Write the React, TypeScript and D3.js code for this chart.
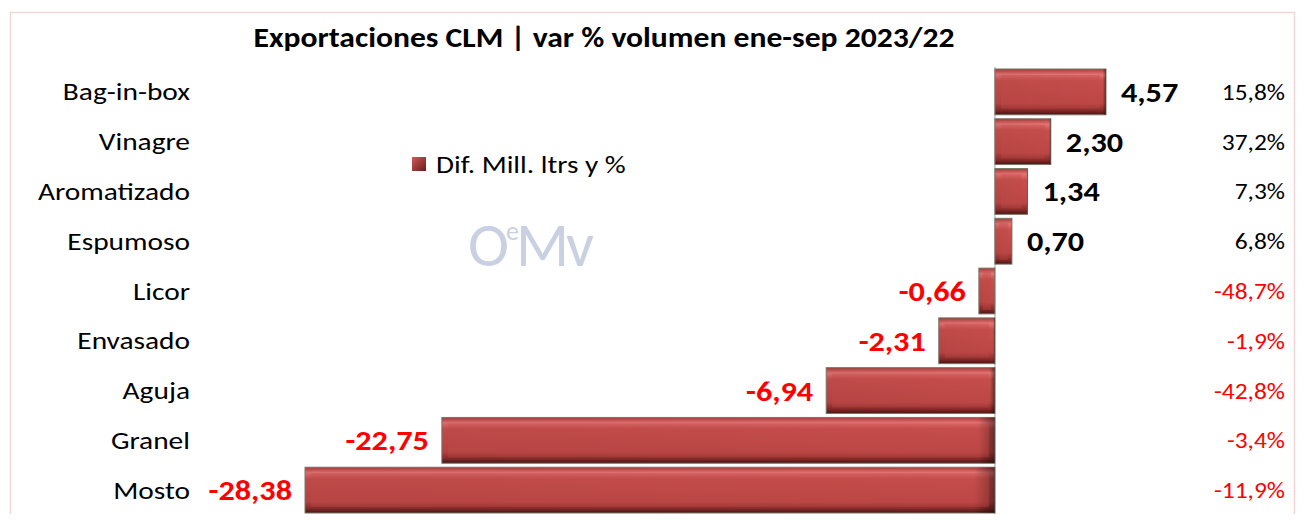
import React from "react";
import * as d3 from "d3";

const categories = ["Bag-in-box", "Vinagre", "Aromatizado", "Espumoso", "Licor", "Envasado", "Aguja", "Granel", "Mosto"];
const diffValues = [4.57, 2.3, 1.34, 0.7, -0.66, -2.31, -6.94, -22.75, -28.38];
const pctLabels = ["15,8%", "37,2%", "7,3%", "6,8%", "-48,7%", "-1,9%", "-42,8%", "-3,4%", "-11,9%"];
const title = "Exportaciones CLM | var % volumen ene-sep 2023/22";
const legendLabel = "Dif. Mill. ltrs y %";

const W = 1311;
const H = 522;
const FONT = "Carlito, Lato, 'Open Sans', sans-serif";

function T(props: { x: number; y: number; sx: number; anchor?: string; size: number; bold?: boolean; fill?: string; children: React.ReactNode }) {
  return (
    <text
      transform={`translate(${props.x},${props.y}) scale(${props.sx},1)`}
      textAnchor={props.anchor || "start"}
      fontFamily={FONT}
      fontSize={props.size}
      fontWeight={props.bold ? "bold" : "normal"}
      fill={props.fill || "#000"}
    >
      {props.children}
    </text>
  );
}

export default function App() {
  const x = d3.scaleLinear().domain([-28.38, 4.57]).range([305, 1106]);
  const y = d3.scaleBand<string>().domain(categories).range([67, 515]).paddingInner(0.08).paddingOuter(0.04);
  const fmt = (v: number) => d3.format(".2f")(v).replace(".", ",").replace("−", "-");
  const x0 = x(0);
  return (
    <div style={{ margin: -8 }}>
      <svg width={W} height={H} style={{ display: "block", background: "#fff" }}>
        <defs>
          <linearGradient id="barV" x1="0" y1="0" x2="0" y2="1">
            <stop offset="0" stopColor="#a83a38" />
            <stop offset="0.12" stopColor="#e47474" />
            <stop offset="0.25" stopColor="#c84f4d" />
            <stop offset="0.75" stopColor="#bb4645" />
            <stop offset="0.9" stopColor="#8a2c2a" />
            <stop offset="1" stopColor="#4a1414" />
          </linearGradient>
          <linearGradient id="barH" x1="0" y1="0" x2="1" y2="0">
            <stop offset="0" stopColor="#000" stopOpacity="0.05" />
            <stop offset="0.97" stopColor="#000" stopOpacity="0" />
            <stop offset="1" stopColor="#000" stopOpacity="0.45" />
          </linearGradient>
          <linearGradient id="legendG" x1="0" y1="0" x2="1" y2="1">
            <stop offset="0" stopColor="#d05a58" />
            <stop offset="1" stopColor="#6a1c1c" />
          </linearGradient>
        </defs>
        <rect x={10.5} y={12.5} width={1284} height={H + 10} fill="none" stroke="#f0d6d6" strokeWidth={1.5} />
        <T x={604} y={47} sx={1.13} anchor="middle" size={28} bold>{title}</T>
        {/* watermark */}
        <text x={468} y={266} fontFamily={FONT} fontSize={62} fill="#c9d0e2" letterSpacing={-3}>
          O
          <tspan fontSize={26} dy={-26}>e</tspan>
          <tspan dy={26} fontSize={62}>Mv</tspan>
        </text>
        {/* legend */}
        <rect x={412} y={157} width={14} height={14} fill="url(#legendG)" />
        <T x={436} y={173} sx={1.17} size={25}>{legendLabel}</T>
        {/* axis */}
        <line x1={x0} x2={x0} y1={67} y2={H} stroke="#cfcfcf" strokeWidth={2} />
        {categories.map((c, i) => {
          const v = diffValues[i];
          const bx = Math.min(x(v), x0);
          const bw = Math.abs(x(v) - x0);
          const by = y(c)!;
          const bh = y.bandwidth();
          const cy = by + bh / 2;
          const inset = Math.min(6, bw / 4);
          return (
            <g key={c}>
              <T x={190} y={cy + 8.5} sx={1.2} anchor="end" size={24.5}>{c}</T>
              <rect x={bx} y={by} width={bw} height={bh} fill="url(#barV)" stroke="#7a7a6a" strokeWidth={1} />
              <rect x={bx} y={by} width={bw} height={bh} fill="url(#barH)" />
              <rect x={bx + inset} y={by + inset} width={Math.max(0, bw - 2 * inset)} height={bh - 2 * inset} fill="#c04a48" opacity={0.35} />
              {v >= 0 ? (
                <T x={x(v) + 15} y={cy + 10} sx={1.15} size={28} bold>{fmt(v)}</T>
              ) : (
                <T x={x(v) - 13} y={cy + 10} sx={1.15} anchor="end" size={28} bold fill="#ff0000">{fmt(v)}</T>
              )}
              <T x={1285} y={cy + 8} sx={1.13} anchor="end" size={22.5} fill={v >= 0 ? "#000" : "#ff0000"}>{pctLabels[i]}</T>
            </g>
          );
        })}
      </svg>
    </div>
  );
}
